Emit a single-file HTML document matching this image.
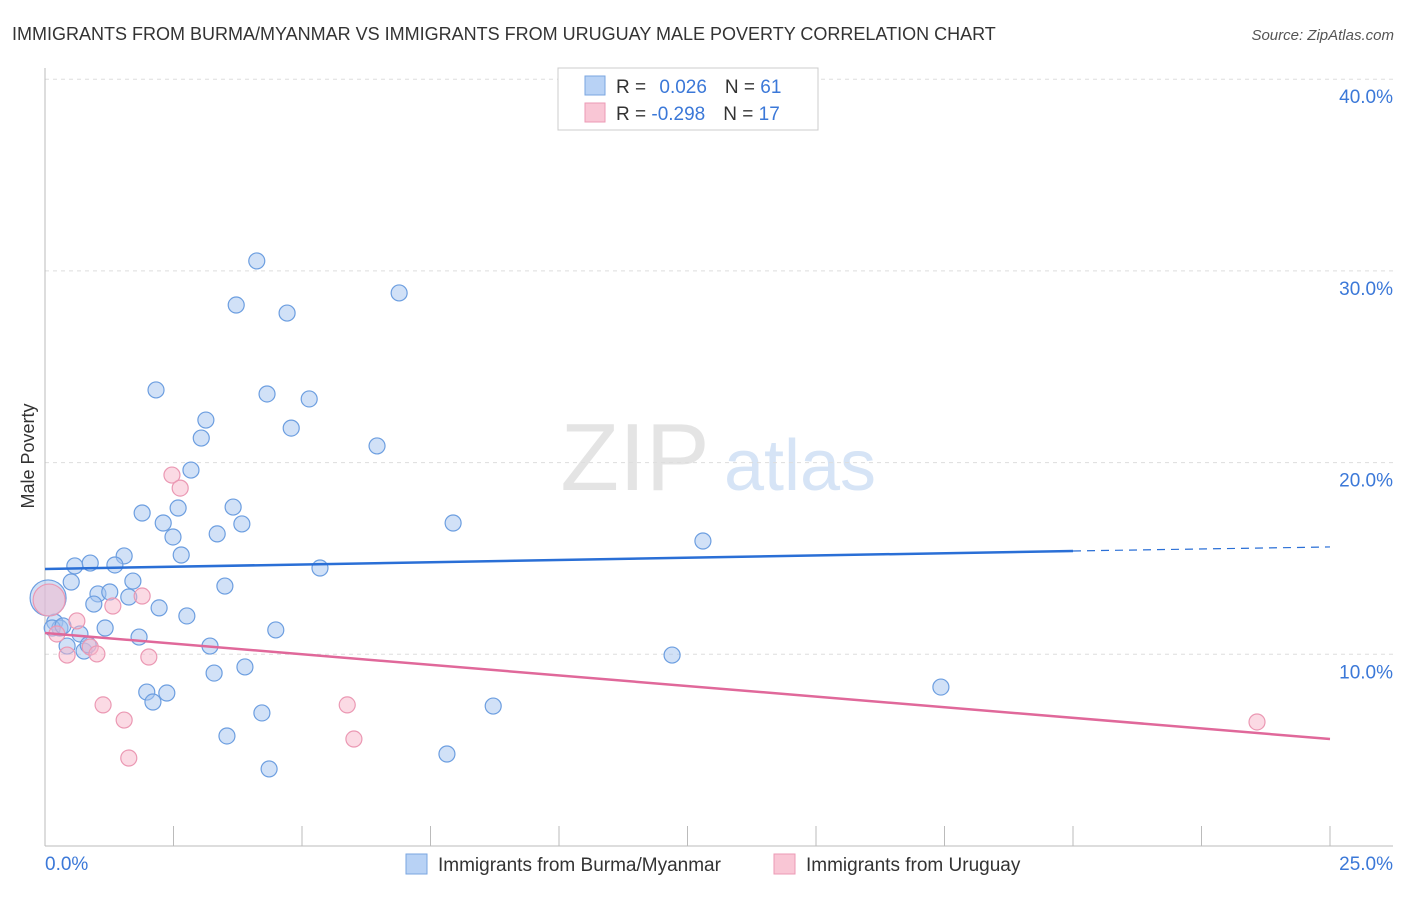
<!DOCTYPE html>
<html><head><meta charset="utf-8"><style>
body{margin:0;background:#fff;font-family:"Liberation Sans",sans-serif}
svg text{font-family:"Liberation Sans",sans-serif}
</style></head><body>
<svg id="c" width="1406" height="892">
<text x="12" y="40" font-size="18" fill="#333">IMMIGRANTS FROM BURMA/MYANMAR VS IMMIGRANTS FROM URUGUAY MALE POVERTY CORRELATION CHART</text>
<text x="1394" y="40" font-size="15" fill="#555" font-style="italic" text-anchor="end">Source: ZipAtlas.com</text>
<text x="34" y="456" font-size="18" fill="#333" text-anchor="middle" transform="rotate(-90 34 456)">Male Poverty</text>
<g><text x="635" y="490" font-size="96" font-family="Liberation Serif,serif" fill="#e4e4e4" text-anchor="middle">ZIP</text><text x="800" y="490" font-size="72" fill="#d6e4f6" text-anchor="middle">atlas</text></g>
<g id="grid"></g><g id="axes"></g><g id="marks"></g>
<g>
<rect x="558" y="68" width="260" height="62" fill="#fff" stroke="#ccc"/>
<rect x="585" y="76" width="20" height="19" fill="#b8d2f5" stroke="#7aa6e0"/>
<rect x="585" y="103" width="20" height="19" fill="#f9c6d5" stroke="#ec9ab5"/>
<text x="616" y="93" font-size="19" fill="#333">R = <tspan fill="#3b78d8" dx="8">0.026</tspan><tspan dx="18">N = </tspan><tspan fill="#3b78d8">61</tspan></text>
<text x="616" y="120" font-size="19" fill="#333">R = <tspan fill="#3b78d8">-0.298</tspan><tspan dx="18">N = </tspan><tspan fill="#3b78d8">17</tspan></text>
</g>
<g>
<rect x="406" y="854" width="21" height="20" fill="#b8d2f5" stroke="#7aa6e0"/>
<text x="438" y="871" font-size="19" fill="#333">Immigrants from Burma/Myanmar</text>
<rect x="774" y="854" width="21" height="20" fill="#f9c6d5" stroke="#ec9ab5"/>
<text x="806" y="871" font-size="19" fill="#333">Immigrants from Uruguay</text>
</g>
</svg>
<script>
const blueX=[4.12,3.72,4.71,6.89,2.16,4.32,5.14,3.13,3.04,4.79,6.46,2.84,1.89,2.59,3.66,2.30,3.83,7.94,2.49,3.35,2.65,1.54,0.58,0.88,1.36,5.35,12.80,0.51,1.71,3.50,1.03,1.26,1.63,0.95,2.22,2.76,1.17,4.49,0.19,0.29,0.68,1.83,3.21,0.43,0.76,12.20,3.89,3.29,1.98,2.37,2.10,4.22,8.72,17.43,3.54,7.82,4.36,0.06,0.14,0.35,0.84];
const blueY=[30.52,28.22,27.80,28.85,23.79,23.58,23.32,22.22,21.28,21.80,20.87,19.61,17.37,17.63,17.68,16.85,16.80,16.85,16.12,16.28,15.18,15.13,14.61,14.76,14.66,14.50,15.91,13.77,13.82,13.56,13.15,13.25,12.99,12.62,12.42,12.00,11.37,11.27,11.68,11.37,11.06,10.90,10.43,10.43,10.17,9.96,9.34,9.02,8.03,7.98,7.51,6.94,7.30,8.29,5.74,4.80,4.02,12.94,11.37,11.48,10.49];
const blueBig=[57];
const pinkX=[2.47,2.63,1.32,1.89,0.62,0.08,0.23,0.88,1.01,0.43,2.02,1.13,1.54,5.88,6.01,1.63,23.58];
const pinkY=[19.35,18.67,12.52,13.04,11.74,12.83,11.06,10.38,10.02,9.96,9.86,7.36,6.57,7.36,5.58,4.59,6.47];
const pinkBig=[5];
const blueTrend=[14.45,15.39,15.6]; // at x=0, 20, 25
const pinkTrend=[11.11,5.58]; // at x=0, 25
const yTicks=[10,20,30,40];
const xTickLabels=["0.0%","25.0%"];
const X=v=>45+v/25*1285, Y=v=>846-v*19.17;
const NS="http://www.w3.org/2000/svg";
function mk(p,t,a){const e=document.createElementNS(NS,t);for(const k in a)e.setAttribute(k,a[k]);p.appendChild(e);return e;}
const grid=document.getElementById('grid'),axes=document.getElementById('axes'),marks=document.getElementById('marks');
yTicks.forEach(t=>{
 const l=mk(grid,'line',{x1:45,x2:1393,y1:Y(t),y2:Y(t),stroke:'#ddd','stroke-dasharray':'4,4'});
 
 
 const tx=mk(axes,'text',{x:1393,y:Y(t)+24,'font-size':19,fill:'#3b78d8','text-anchor':'end'});tx.textContent=t.toFixed(1)+'%';
 
 
});
mk(axes,'line',{x1:45,x2:45,y1:68,y2:846,stroke:'#bbb'});
mk(axes,'line',{x1:45,x2:1393,y1:846,y2:846,stroke:'#bbb'});
for(let i=0;i<=10;i++){const x=X(i*2.5);mk(axes,'line',{x1:x,x2:x,y1:826,y2:846,stroke:'#bbb'});}
const xl0=mk(axes,'text',{x:45,y:870,'font-size':19,fill:'#3b78d8'});xl0.textContent=xTickLabels[0];


const xl1=mk(axes,'text',{x:1393,y:870,'font-size':19,fill:'#3b78d8','text-anchor':'end'});xl1.textContent=xTickLabels[1];


blueX.forEach((v,i)=>{
 const c=mk(marks,'circle',{cx:X(v),cy:Y(blueY[i]),r:blueBig.includes(i)?18:8,fill:'rgba(164,196,240,0.5)',stroke:'#6c9ee0','stroke-width':1.2});
 
 
});
pinkX.forEach((v,i)=>{
 const c=mk(marks,'circle',{cx:X(v),cy:Y(pinkY[i]),r:pinkBig.includes(i)?16:8,fill:'rgba(248,182,202,0.5)',stroke:'#eb98b3','stroke-width':1.2});
 
 
});
const b1=mk(marks,'line',{x1:X(0),y1:Y(blueTrend[0]),x2:X(20),y2:Y(blueTrend[1]),stroke:'#2a6fd6','stroke-width':2.5});


const b2=mk(marks,'line',{x1:X(20),y1:Y(blueTrend[1]),x2:X(25),y2:Y(blueTrend[2]),stroke:'#2a6fd6','stroke-width':1.2,'stroke-dasharray':'8,6'});


const p1=mk(marks,'line',{x1:X(0),y1:Y(pinkTrend[0]),x2:X(25),y2:Y(pinkTrend[1]),stroke:'#e0689a','stroke-width':2.5});


</script>
</body></html>
